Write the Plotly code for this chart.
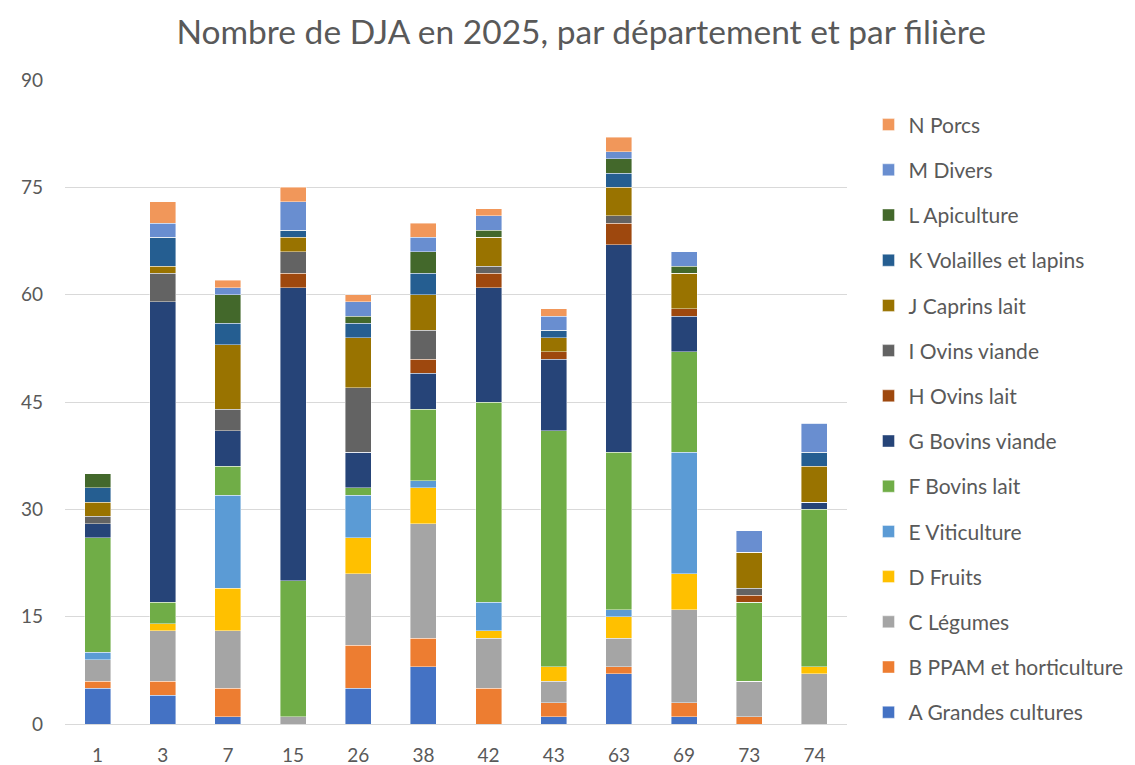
import plotly.graph_objects as go

departements = ["1", "3", "7", "15", "26", "38", "42", "43", "63", "69", "73", "74"]

filieres = [
    "A Grandes cultures", "B PPAM et horticulture", "C Légumes", "D Fruits",
    "E Viticulture", "F Bovins lait", "G Bovins viande", "H Ovins lait",
    "I Ovins viande", "J Caprins lait", "K Volailles et lapins", "L Apiculture",
    "M Divers", "N Porcs",
]

couleurs = [
    "#4472C4", "#ED7D31", "#A5A5A5", "#FFC000", "#5B9BD5", "#70AD47", "#264478",
    "#9E480E", "#636363", "#997300", "#255E91", "#43682B", "#698ED0", "#F1975A",
]

#                   1  3  7 15 26 38 42 43 63 69 73 74
a_grandes_cult  = [5, 4, 1, 0, 5, 8, 0, 1, 7, 1, 0, 0]
b_ppam          = [1, 2, 4, 0, 6, 4, 5, 2, 1, 2, 1, 0]
c_legumes       = [3, 7, 8, 1, 10, 16, 7, 3, 4, 13, 5, 7]
d_fruits        = [0, 1, 6, 0, 5, 5, 1, 2, 3, 5, 0, 1]
e_viticulture   = [1, 0, 13, 0, 6, 1, 4, 0, 1, 17, 0, 0]
f_bovins_lait   = [16, 3, 4, 19, 1, 10, 28, 33, 22, 14, 11, 22]
g_bovins_viande = [2, 42, 5, 41, 5, 5, 16, 10, 29, 5, 0, 1]
h_ovins_lait    = [0, 0, 0, 2, 0, 2, 2, 1, 3, 1, 1, 0]
i_ovins_viande  = [1, 4, 3, 3, 9, 4, 1, 0, 1, 0, 1, 0]
j_caprins_lait  = [2, 1, 9, 2, 7, 5, 4, 2, 4, 5, 5, 5]
k_volailles     = [2, 4, 3, 1, 2, 3, 0, 1, 2, 0, 0, 2]
l_apiculture    = [2, 0, 4, 0, 1, 3, 1, 0, 2, 1, 0, 0]
m_divers        = [0, 2, 1, 4, 2, 2, 2, 2, 1, 2, 3, 4]
n_porcs         = [0, 3, 1, 2, 1, 2, 1, 1, 2, 0, 0, 0]

series = [
    a_grandes_cult, b_ppam, c_legumes, d_fruits, e_viticulture, f_bovins_lait,
    g_bovins_viande, h_ovins_lait, i_ovins_viande, j_caprins_lait, k_volailles,
    l_apiculture, m_divers, n_porcs,
]

y_ticks = [0, 15, 30, 45, 60, 75, 90]

FONT = "Lato, 'Open Sans', sans-serif"
GREY = "#595959"

fig = go.Figure()
n = len(filieres)
for i, (name, vals, col) in enumerate(zip(filieres, series, couleurs)):
    fig.add_trace(go.Bar(
        x=departements, y=vals, name=name, legendgroup=name,
        legendrank=n - i,
        marker=dict(color=col, line=dict(color="rgba(255,255,255,0.6)", width=0.7)),
    ))

fig.update_layout(
    barmode="stack",
    bargap=0.6,
    width=1135, height=765,
    margin=dict(l=57, r=296, t=72, b=49, autoexpand=False),
    paper_bgcolor="white", plot_bgcolor="white",
    font=dict(family=FONT, color=GREY, size=19),
    title=dict(
        text="Nombre de DJA en 2025, par département et par filière",
        font=dict(family=FONT, size=33.5, color=GREY),
        x=0.505, xanchor="center", y=0.968, yanchor="middle",
    ),
    legend=dict(
        x=1.0275, xanchor="left", y=0.962, yanchor="top",
        traceorder="grouped", tracegroupgap=14.9,
        font=dict(family=FONT, size=21, color=GREY),
        bgcolor="rgba(0,0,0,0)",
    ),
    showlegend=True,
)
fig.update_xaxes(
    type="category", showgrid=False, showline=True, linecolor="#D9D9D9", linewidth=1,
    ticks="", ticklabelstandoff=14, tickfont=dict(size=19, color=GREY), automargin=False,
)
fig.update_yaxes(
    range=[0, 90], tickvals=y_ticks, showgrid=True, gridcolor="#D9D9D9", gridwidth=1,
    zeroline=False, showline=False, ticks="", ticklabelstandoff=21,
    tickfont=dict(size=19, color=GREY), automargin=False,
)

fig.write_html("out.html")
